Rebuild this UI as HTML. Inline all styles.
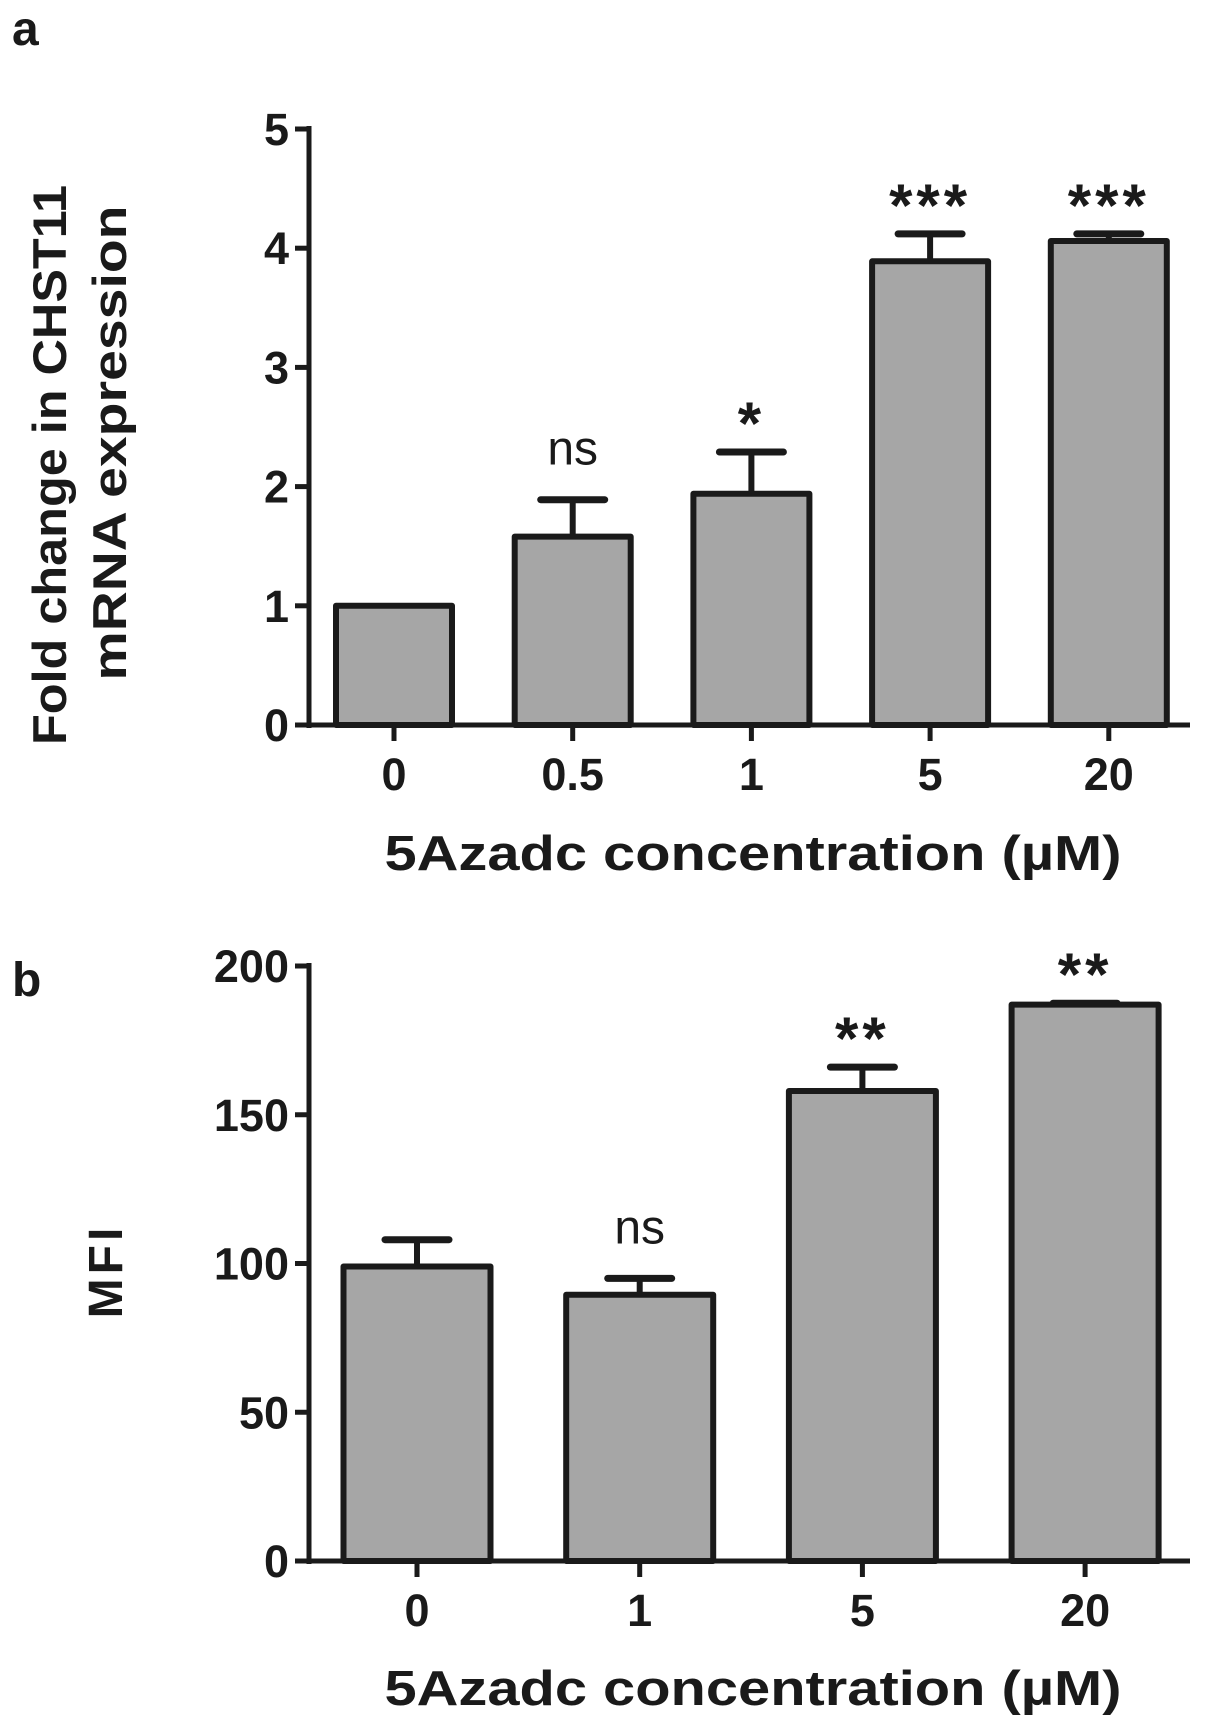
<!DOCTYPE html>
<html><head><meta charset="utf-8"><style>
html,body{margin:0;padding:0;background:#fff}
svg{display:block;font-family:"Liberation Sans",Arial,sans-serif}
</style></head><body>
<svg id="fig" width="1205" height="1735" viewBox="0 0 1205 1735"></svg>
<script>
const catsA = ["0","0.5","1","5","20"];
const valsA = [1, 1.58, 1.94, 3.89, 4.06];
const errA = [0, 0.31, 0.35, 0.23, 0.06];
const sigA = ["", "ns", "*", "***", "***"];
const ticksA = [0,1,2,3,4,5];

const catsB = ["0","1","5","20"];
const valsB = [99, 89.5, 158, 187];
const errB = [9, 5.5, 8, 0.5];
const sigB = ["", "ns", "**", "**"];
const ticksB = [0,50,100,150,200];

const NS="http://www.w3.org/2000/svg";
const svg=document.getElementById('fig');
function el(tag,attrs,parent,text){const e=document.createElementNS(NS,tag);for(const k in attrs)e.setAttribute(k,attrs[k]);if(text!==undefined)e.textContent=text;(parent||svg).appendChild(e);return e;}

function panel(cfg){
  const g=el('g',{});
  
  
  const y=v=>cfg.y0-(v-cfg.min)/(cfg.max-cfg.min)*(cfg.y0-cfg.yTop);
  const x=i=>cfg.xFirst+i*cfg.step;
  cfg.vals.forEach((v,i)=>{
    const cx=x(i), top=y(v);
    if(cfg.errs[i]>0){
      const ey=y(v+cfg.errs[i]);
      const l=el('line',{x1:cx,x2:cx,y1:top,y2:ey,stroke:'#1a1a1a','stroke-width':6},g);
      
      
      const c=el('line',{x1:cx-cfg.cap/2,x2:cx+cfg.cap/2,y1:ey,y2:ey,stroke:'#1a1a1a','stroke-width':7,'stroke-linecap':'round'},g);
      
      
    }
    const r=el('rect',{x:cx-cfg.bw/2,y:top,width:cfg.bw,height:cfg.y0-top,fill:'#a6a6a6',stroke:'#1a1a1a','stroke-width':6,'stroke-linejoin':'round'},g);
    
    
    if(cfg.sig[i]){
      const isStar=cfg.sig[i].indexOf('*')>=0;
      const ey=y(v+cfg.errs[i]);
      const t=el('text',{x:cx,y:isStar?ey-8:ey-35,'text-anchor':'middle','font-size':isStar?60:48,'font-weight':isStar?'bold':'normal',fill:'#1a1a1a','letter-spacing':isStar?4:0},g,cfg.sig[i]);
      
      
    }
    const tk=el('line',{x1:cx,x2:cx,y1:cfg.y0,y2:cfg.y0+16,stroke:'#1a1a1a','stroke-width':5},g);
    
    
    const tl=el('text',{x:cx,y:cfg.y0+65,'text-anchor':'middle','font-size':45,'font-weight':'bold',fill:'#1a1a1a'},g,cfg.cats[i]);
    
    
  });
  const ya=el('line',{x1:cfg.ax,x2:cfg.ax,y1:cfg.yTop-3,y2:cfg.y0+3,stroke:'#1a1a1a','stroke-width':5},g);
  
  
  const xa=el('line',{x1:cfg.ax,x2:1190,y1:cfg.y0,y2:cfg.y0,stroke:'#1a1a1a','stroke-width':5},g);
  
  
  cfg.ticks.forEach(t=>{
    const yy=y(t);
    const m=el('line',{x1:cfg.ax-14,x2:cfg.ax,y1:yy,y2:yy,stroke:'#1a1a1a','stroke-width':5},g);
    
    
    const l=el('text',{x:cfg.ax-20,y:yy+16,'text-anchor':'end','font-size':45,'font-weight':'bold',fill:'#1a1a1a'},g,String(t));
    
    
  });
  const xt=el('text',{x:753,y:cfg.xTitleY,'text-anchor':'middle','font-size':49,'font-weight':'bold',fill:'#1a1a1a',textLength:737,lengthAdjust:'spacingAndGlyphs'},g,'5Azadc concentration (\u00b5M)');
  
  
  const pl=el('text',{x:12,y:cfg.labelY,'font-size':48,'font-weight':'bold',fill:'#1a1a1a'},g,cfg.label);
  
  
  return g;
}

panel({name:'panel-a',cats:catsA,vals:valsA,errs:errA,sig:sigA,ticks:ticksA,min:0,max:5,y0:725,yTop:129,ax:309,xFirst:394,step:178.7,bw:116,cap:64,xTitleY:870,label:'a',labelY:45});
panel({name:'panel-b',cats:catsB,vals:valsB,errs:errB,sig:sigB,ticks:ticksB,min:0,max:200,y0:1561,yTop:966,ax:309,xFirst:417,step:222.7,bw:147,cap:64,xTitleY:1705,label:'b',labelY:996});

const yt1=el('text',{transform:'translate(66,465) rotate(-90)','text-anchor':'middle','font-size':47,'font-weight':'bold',fill:'#1a1a1a',textLength:560,lengthAdjust:'spacingAndGlyphs'},svg,'Fold change in CHST11');


const yt2=el('text',{transform:'translate(126,443) rotate(-90)','text-anchor':'middle','font-size':47,'font-weight':'bold',fill:'#1a1a1a',textLength:475,lengthAdjust:'spacingAndGlyphs'},svg,'mRNA expression');


const yt3=el('text',{transform:'translate(122,1271) rotate(-90)','text-anchor':'middle','font-size':48,'font-weight':'bold',fill:'#1a1a1a','letter-spacing':4},svg,'MFI');


</script>
</body></html>
